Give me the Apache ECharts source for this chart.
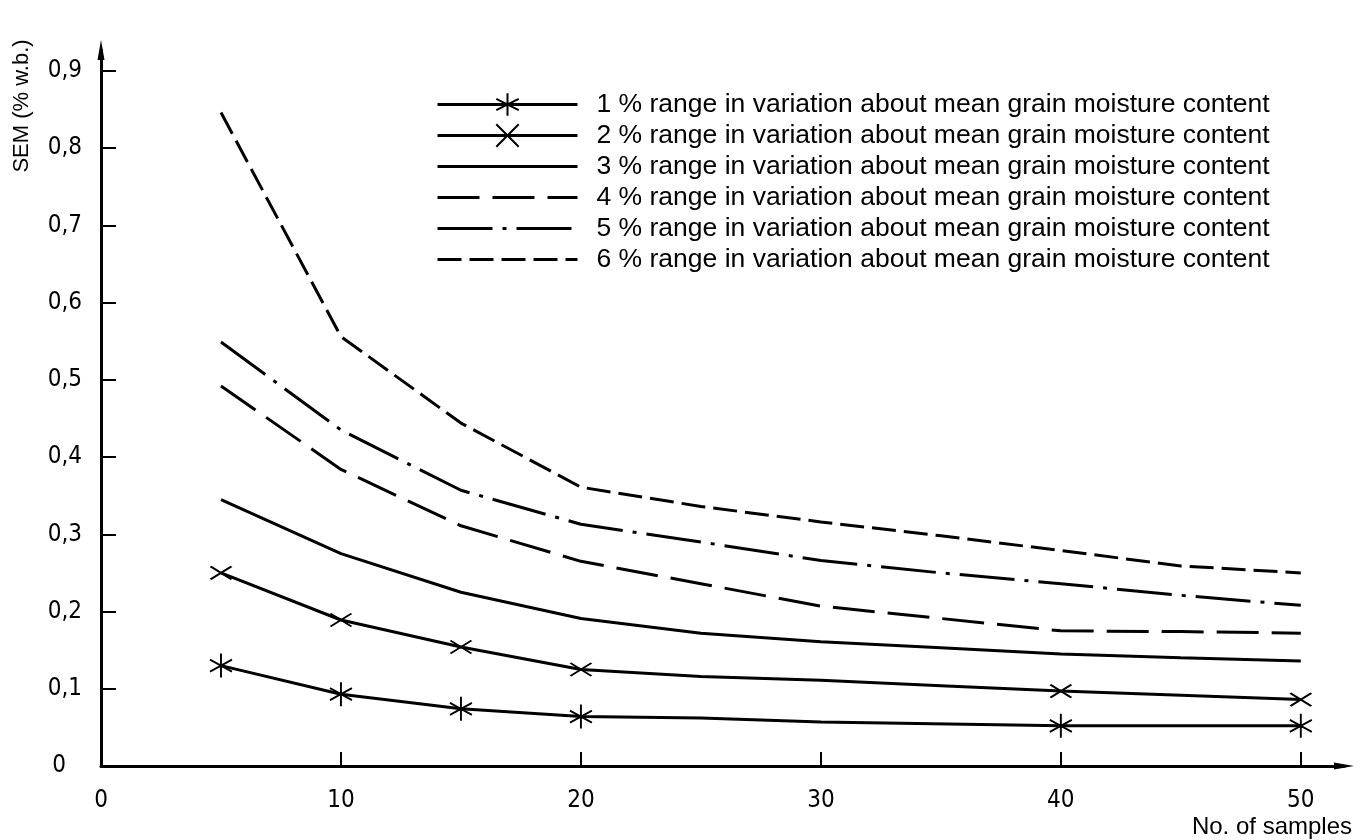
<!DOCTYPE html>
<html>
<head>
<meta charset="utf-8">
<script src="https://cdn.jsdelivr.net/npm/echarts@6/dist/echarts.min.js"></script>
<style>
html, body { margin: 0; padding: 0; background: #fff; }
#chart { width: 1360px; height: 840px; }
</style>
</head>
<body>
<div id="chart"></div>
<script>
// tick values
const xTicks = [0, 10, 20, 30, 40, 50];
const yTicks = [0, 0.1, 0.2, 0.3, 0.4, 0.5, 0.6, 0.7, 0.8, 0.9];

const names = [
  "1 % range in variation about mean grain moisture content",
  "2 % range in variation about mean grain moisture content",
  "3 % range in variation about mean grain moisture content",
  "4 % range in variation about mean grain moisture content",
  "5 % range in variation about mean grain moisture content",
  "6 % range in variation about mean grain moisture content"
];

// 1 % range
const samples1 = [5, 10, 15, 20, 25, 30, 40, 50];
const sem1 = [0.130, 0.093, 0.074, 0.064, 0.062, 0.057, 0.052, 0.052];
const marked1 = [5, 10, 15, 20, 40, 50];
// 2 % range
const samples2 = [5, 10, 15, 20, 25, 30, 35, 40, 50];
const sem2 = [0.250, 0.189, 0.154, 0.125, 0.116, 0.111, 0.104, 0.097, 0.086];
const marked2 = [5, 10, 15, 20, 40, 50];
// 3 % range
const samples3 = [5, 10, 15, 20, 25, 30, 35, 40, 45, 50];
const sem3 = [0.345, 0.275, 0.225, 0.191, 0.172, 0.161, 0.153, 0.145, 0.140, 0.136];
// 4 % range
const samples4 = [5, 10, 15, 20, 25, 30, 40, 45, 50];
const sem4 = [0.492, 0.384, 0.311, 0.265, 0.236, 0.207, 0.175, 0.174, 0.172];
// 5 % range
const samples5 = [5, 10, 15, 20, 25, 30, 35, 40, 45, 50];
const sem5 = [0.549, 0.435, 0.357, 0.313, 0.290, 0.266, 0.250, 0.236, 0.221, 0.208];
// 6 % range
const samples6 = [5, 10, 15, 20, 25, 30, 35, 40, 45, 50];
const sem6 = [0.846, 0.556, 0.444, 0.361, 0.336, 0.316, 0.298, 0.279, 0.259, 0.250];

const ASTERISK = "path://M11,0L11,24M0,6L22,18M0,18L22,6";
const CROSS = "path://M0,0L21,13M0,13L21,0";

function pairs(xs, ys, marked) {
  return xs.map(function (x, i) {
    if (!marked || marked.indexOf(x) >= 0) return [x, ys[i]];
    return { value: [x, ys[i]], symbol: "none" };
  });
}

function lineSeries(name, data, dash, symbol, symbolSize) {
  return {
    name: name,
    type: "line",
    data: data,
    symbol: symbol || "none",
    symbolSize: symbolSize || 0,
    showSymbol: !!symbol,
    silent: true,
    itemStyle: symbol
      ? { color: "#000", borderColor: "#000", borderWidth: 2 }
      : { color: "rgba(0,0,0,0)", borderWidth: 0 },
    lineStyle: { color: "#000", width: 3, type: dash || "solid" }
  };
}

const labelFont = "'Liberation Sans Narrow', 'DejaVu Sans Condensed', sans-serif";
const textFont = "'Liberation Sans', Arial, sans-serif";

const chart = echarts.init(document.getElementById("chart"));
chart.setOption({
  animation: false,
  backgroundColor: "#fff",
  grid: { left: 101, right: 16, top: 50, bottom: 74, containLabel: false },
  legend: {
    orient: "vertical",
    left: 436,
    top: 91,
    padding: 0,
    itemWidth: 140,
    itemHeight: 28,
    itemGap: 4,
    selectedMode: false,
    data: names,
    lineStyle: { width: 3 },
    textStyle: { fontFamily: textFont, fontSize: 26.5, color: "#000", padding: [0, 0, 0, 14] }
  },
  xAxis: {
    type: "value",
    min: 0,
    max: 51.8,
    interval: 10,
    splitLine: { show: false },
    axisLine: {
      onZero: false,
      symbol: ["none", "triangle"],
      symbolSize: [7, 20],
      lineStyle: { color: "#000", width: 3 }
    },
    axisTick: {
      inside: true,
      length: 14,
      customValues: xTicks.slice(1),
      lineStyle: { color: "#000", width: 2 }
    },
    axisLabel: {
      customValues: xTicks,
      margin: 23,
      color: "#000",
      fontFamily: labelFont,
      fontSize: 24,
      formatter: function (v) { return String(v); }
    }
  },
  yAxis: {
    type: "value",
    min: 0,
    max: 0.927,
    interval: 0.1,
    splitLine: { show: false },
    axisLine: {
      onZero: false,
      symbol: ["none", "triangle"],
      symbolSize: [7, 20],
      lineStyle: { color: "#000", width: 3 }
    },
    axisTick: {
      inside: true,
      length: 15,
      customValues: yTicks.slice(1),
      lineStyle: { color: "#000", width: 2 }
    },
    axisLabel: {
      customValues: yTicks,
      margin: 19,
      color: "#000",
      fontFamily: labelFont,
      fontSize: 24,
      formatter: function (v) {
        if (v === 0) return "{z|0}";
        return v.toFixed(1).replace(".", ",");
      },
      rich: { z: { fontFamily: labelFont, fontSize: 24, color: "#000", padding: [0, 16, 0, 0] } }
    }
  },
  graphic: [
    {
      type: "text",
      x: 22,
      y: 106,
      rotation: Math.PI / 2,
      style: {
        text: "SEM (% w.b.)",
        font: "22px " + textFont,
        fill: "#000",
        textAlign: "center",
        textVerticalAlign: "middle"
      }
    },
    {
      type: "text",
      right: 8,
      top: 815,
      style: {
        text: "No. of samples",
        font: "24px " + textFont,
        fill: "#000"
      }
    }
  ],
  series: [
    lineSeries(names[0], pairs(samples1, sem1, marked1), "solid", ASTERISK, [22, 24]),
    lineSeries(names[1], pairs(samples2, sem2, marked2), "solid", CROSS, [21, 13]),
    lineSeries(names[2], pairs(samples3, sem3), "solid"),
    lineSeries(names[3], pairs(samples4, sem4), [42, 13]),
    lineSeries(names[4], pairs(samples5, sem5), [55, 10, 4, 10]),
    lineSeries(names[5], pairs(samples6, sem6), [24, 8])
  ]
});
</script>
</body>
</html>
